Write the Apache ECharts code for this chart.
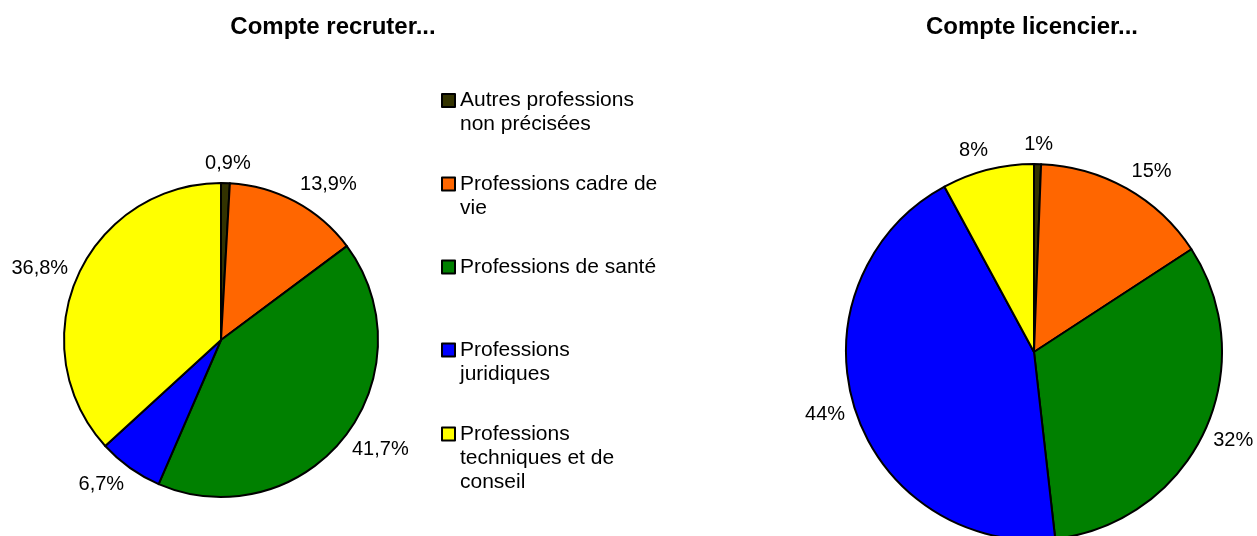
<!DOCTYPE html>
<html>
<head>
<meta charset="utf-8">
<title>Compte recruter / licencier</title>
<script src="https://cdn.jsdelivr.net/npm/echarts@6/dist/echarts.min.js"></script>
<style>
  html, body { margin: 0; padding: 0; background: #fff; }
  #main { width: 1257px; height: 536px; }
</style>
</head>
<body>
<div id="main"></div>
<script>
// categories
var categories = [
    'Autres professions non précisées',
    'Professions cadre de vie',
    'Professions de santé',
    'Professions juridiques',
    'Professions techniques et de conseil'
];
// legend text, wrapped as in the picture
var legendLines = [
    ['Autres professions', 'non précisées'],
    ['Professions cadre de', 'vie'],
    ['Professions de santé'],
    ['Professions', 'juridiques'],
    ['Professions', 'techniques et de', 'conseil']
];
var colors = ['#333300', '#FF6600', '#008000', '#0000FF', '#FFFF00'];

// % values
var recruterValues = [0.9, 13.9, 41.7, 6.7, 36.8];
var licencierValues = [0.6, 15.2, 32.4, 43.9, 7.9];

var FONT = 'Liberation Sans, Arial, sans-serif';
var myChart = echarts.init(document.getElementById('main'));

// place labels like excel "outside end": box touches a point just off the rim
function excelLabel(params) {
    var lay;
    try {
        lay = myChart.getModel().getSeriesByIndex(params.seriesIndex).getData().getItemLayout(params.dataIndex);
    } catch (e) {
        return {};
    }
    if (!lay) return {};
    var mid = (lay.startAngle + lay.endAngle) / 2;
    var dx = Math.cos(mid), dy = Math.sin(mid);
    var w = params.labelRect.width, h = params.labelRect.height;
    var px = lay.cx + dx * (lay.r + 10);
    var py = lay.cy + dy * (lay.r + 10);
    var fx = Math.max(-1, Math.min(1, dx / 0.3));
    return {
        x: px + fx * w / 2,
        y: py + dy * h / 2,
        align: 'center',
        verticalAlign: 'middle'
    };
}

function makeData(values) {
    return values.map(function (v, i) {
        return { value: v, name: categories[i] };
    });
}

function pieSeries(name, values, center, radius, fmt) {
    return {
        name: name,
        type: 'pie',
        center: center,
        radius: radius,
        startAngle: 90,
        clockwise: true,
        avoidLabelOverlap: false,
        animation: false,
        data: makeData(values),
        itemStyle: { borderColor: '#000', borderWidth: 2 },
        label: {
            show: true,
            position: 'outside',
            color: '#000',
            fontFamily: FONT,
            fontSize: 20,
            formatter: function (p) { return fmt(p.value); }
        },
        labelLine: { show: false, length: 10, length2: 0 },
        labelLayout: excelLabel,
        emphasis: { scale: false }
    };
}

// one legend per item so the gaps can follow the picture.
// legend text is centred on the icon, so blank lines are put on top
// to bring the first line level with the icon
var legendCenters = [100.5, 184, 267, 350, 434];
var LH = 24;
var legends = categories.map(function (name, i) {
    var n = legendLines[i].length;
    var blank = new Array(n).join('\n');
    return {
        orient: 'vertical',
        left: 441,
        top: legendCenters[i] - (2 * n - 1) * LH / 2,
        padding: 0,
        itemWidth: 13,
        itemHeight: 13,
        icon: 'rect',
        selectedMode: false,
        itemStyle: { borderColor: '#000', borderWidth: 2 },
        data: [name],
        formatter: function () { return blank + legendLines[i].join('\n'); },
        textStyle: {
            color: '#000',
            fontFamily: FONT,
            fontSize: 21,
            lineHeight: LH
        }
    };
});

var titleStyle = { fontFamily: FONT, fontSize: 24, fontWeight: 'bold', color: '#000' };

var option = {
    color: colors,
    animation: false,
    title: [
        { text: 'Compte recruter...', left: 333, top: 15, padding: 0, textAlign: 'center', textStyle: titleStyle },
        { text: 'Compte licencier...', left: 1032, top: 15, padding: 0, textAlign: 'center', textStyle: titleStyle }
    ],
    legend: legends,
    series: [
        pieSeries('Compte recruter', recruterValues, [221, 340], 157, function (v) {
            return v.toFixed(1).replace('.', ',') + '%';
        }),
        pieSeries('Compte licencier', licencierValues, [1034, 352], 188, function (v) {
            return Math.round(v) + '%';
        })
    ]
};
myChart.setOption(option);
</script>
</body>
</html>
